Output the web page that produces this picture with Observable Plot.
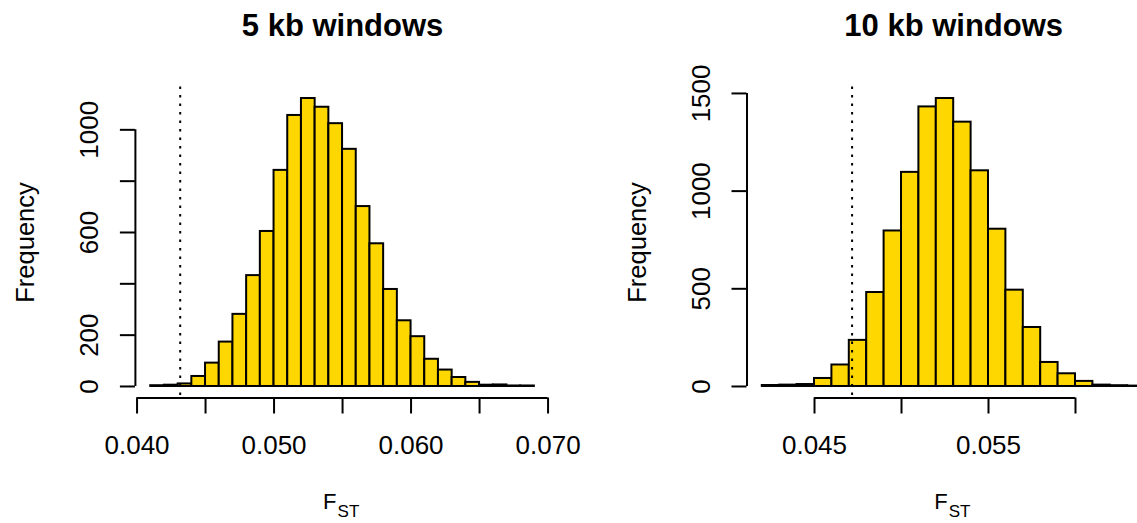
<!DOCTYPE html>
<html><head><meta charset="utf-8">
<script src="https://cdn.jsdelivr.net/npm/d3@7"></script>
<script src="https://cdn.jsdelivr.net/npm/@observablehq/plot@0.6"></script>
<style>
html,body{margin:0;padding:0;background:#fff;overflow:hidden}
#wrap{position:relative;width:1137px;height:523px;overflow:hidden;background:#fff}
.panel{position:absolute;top:0}
.panel svg{max-width:none !important;height:523px !important}
</style></head><body>
<div id="wrap"><div class="panel" id="p5" style="left:0;width:568px"></div><div class="panel" id="p10" style="left:568px;width:600px"></div></div>
<script>
// ---- data ----
const title5 = "5 kb windows";
const breaks5 = [0.041,0.042,0.043,0.044,0.045,0.046,0.047,0.048,0.049,0.050,0.051,0.052,0.053,0.054,0.055,0.056,0.057,0.058,0.059,0.060,0.061,0.062,0.063,0.064,0.065,0.066,0.067,0.068,0.069];
const counts5 = [3,5,10,39,91,173,281,432,604,842,1056,1122,1088,1024,924,701,556,378,256,194,106,64,35,16,5,6,2,2];
const threshold5 = 0.04315;
const xTicks5 = [0.040,0.045,0.050,0.055,0.060,0.065,0.070];
const xTickLabels5 = ["0.040","","0.050","","0.060","","0.070"];
const yTicks5 = [0,200,400,600,800,1000];
const yTickLabels5 = ["0","200","","600","","1000"];

const title10 = "10 kb windows";
const breaks10 = [0.042,0.043,0.044,0.045,0.046,0.047,0.048,0.049,0.050,0.051,0.052,0.053,0.054,0.055,0.056,0.057,0.058,0.059,0.060,0.061,0.062,0.063,0.064];
const counts10 = [5,7,10,41,110,236,481,796,1096,1431,1474,1353,1104,805,493,302,123,65,26,7,4,2];
const threshold10 = 0.04716;
const xTicks10 = [0.045,0.050,0.055,0.060];
const xTickLabels10 = ["0.045","","0.055",""];
const yTicks10 = [0,500,1000,1500];
const yTickLabels10 = ["0","500","1000","1500"];

const yLabel = "Frequency";
const xLabelMain = "F";
const xLabelSub = "ST";

// ---- drawing ----
const FONT = "'Liberation Sans', Arial, Helvetica, sans-serif";
const LW = 2;

function panel({title, breaks, counts, threshold, xTicks, xTickLabels, yTicks, yTickLabels, width, marginLeft, marginRight}) {
  const bins = counts.map((c, i) => ({x1: breaks[i], x2: breaks[i + 1], count: c}));
  const lo = breaks[0], hi = breaks[breaks.length - 1];
  const xlim = [lo - 0.04 * (hi - lo), hi + 0.04 * (hi - lo)];
  const ymax = d3.max(counts);
  const ylim = [-0.04 * ymax, 1.04 * ymax];
  const cx = (xlim[0] + xlim[1]) / 2;
  return Plot.plot({
    width, height: 523,
    marginLeft, marginRight, marginTop: 86.5, marginBottom: 523 - 397.5,
    x: {domain: xlim},
    y: {domain: ylim},
    style: {fontFamily: FONT, background: "transparent", overflow: "visible", maxWidth: "none"},
    marks: [
      Plot.rectY(bins, {x1: "x1", x2: "x2", y: "count", fill: "#FFD700", stroke: "black", strokeWidth: LW}),
      Plot.ruleX([threshold], {stroke: "black", strokeWidth: LW, strokeDasharray: "2.5,6"}),
      Plot.ruleY([ylim[0]], {x1: xTicks[0], x2: xTicks[xTicks.length - 1], strokeWidth: LW}),
      Plot.ruleX([xlim[0]], {y1: yTicks[0], y2: yTicks[yTicks.length - 1], strokeWidth: LW}),
      Plot.axisX({ticks: xTicks, tickFormat: d => xTickLabels[xTicks.indexOf(d)], tickSize: 16, tickPadding: 22,
        fontSize: 26, strokeWidth: LW, label: null}),
      Plot.axisY({ticks: yTicks, tickFormat: d => yTickLabels[yTicks.indexOf(d)], tickSize: 15, tickPadding: 22,
        tickRotate: -90, fontSize: 26, strokeWidth: LW, label: null}),
      Plot.text([title], {x: cx, frameAnchor: "top", dy: -51.5, lineAnchor: "bottom", fontSize: 31, fontWeight: "bold"}),
      Plot.text([yLabel], {frameAnchor: "left", rotate: -90, dx: -101, textAnchor: "middle", lineAnchor: "bottom", fontSize: 25.5}),
      Plot.text([xLabelMain], {x: cx, frameAnchor: "bottom", dy: 110.5, dx: -6, lineAnchor: "bottom", textAnchor: "end", fontSize: 22}),
      Plot.text([xLabelSub], {x: cx, frameAnchor: "bottom", dy: 118.5, dx: -5, lineAnchor: "bottom", textAnchor: "start", fontSize: 17})
    ]
  });
}

document.getElementById("p5").append(panel({
  title: title5, breaks: breaks5, counts: counts5, threshold: threshold5,
  xTicks: xTicks5, xTickLabels: xTickLabels5, yTicks: yTicks5, yTickLabels: yTickLabels5,
  width: 568, marginLeft: 134.9, marginRight: 18.8
}));
document.getElementById("p10").append(panel({
  title: title10, breaks: breaks10, counts: counts10, threshold: threshold10,
  xTicks: xTicks10, xTickLabels: xTickLabels10, yTicks: yTicks10, yTickLabels: yTickLabels10,
  width: 600, marginLeft: 178.5, marginRight: 8.1
}));
</script>
</body></html>
